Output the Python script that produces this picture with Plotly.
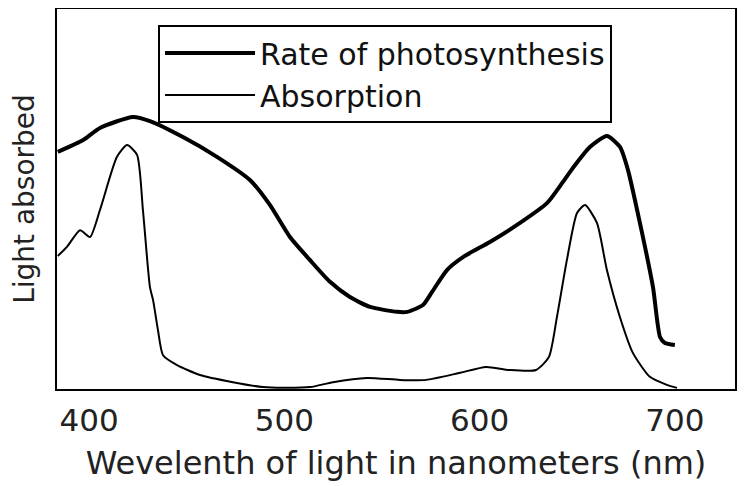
import plotly.graph_objects as go

# Rate of photosynthesis (thick curve)
photo_wl = [384, 397, 405.6, 422.5, 431.2, 448.1, 465.5, 482.4, 492.7, 502.9, 513.2, 523.4,
            533.6, 543.9, 557.7, 563, 571.0, 575.6, 583.3, 591.5, 605.3, 620.7, 634.5,
            642.7, 647.8, 656.5, 665.2, 671.9, 676.0, 682.1, 688.8, 692.4, 694.9, 700.0]
photo_val = [62.4, 65.5, 68.7, 71.6, 70.5, 66.3, 61.1, 55.0, 48.4, 40.0, 33.9, 28.2,
             24.2, 21.6, 20.3, 20.3, 22.1, 25.5, 31.3, 34.7, 38.7, 43.7, 48.9,
             54.5, 58.2, 63.7, 66.6, 63.7, 57.6, 43.7, 26.8, 13.7, 12.1, 11.6]

# Absorption (thin curve)
abs_wl = [384, 388.7, 395.4, 400.5, 405.6, 414.3, 419.5, 424.6, 427.6, 431.2, 432.8, 435.3,
          437.9, 445.1, 456.8, 473.7, 489.1, 499.3, 513.2, 524.9, 542.3, 559.2, 572.6,
          589.5, 603.3, 615.1, 628.9, 635.5, 639.6, 644.7, 649.9, 654.0, 660.1, 665.2,
          671.9, 678.5, 687.2, 695.9, 701.1]
abs_val = [35.0, 37.4, 41.8, 40.0, 47.1, 61.1, 64.2, 61.6, 47.1, 26.8, 23.4, 15.5,
           8.9, 6.3, 3.7, 1.8, 0.5, 0.3, 0.5, 1.8, 2.9, 2.4, 2.4,
           4.2, 5.8, 5.0, 5.0, 8.4, 18.9, 33.9, 46.3, 48.4, 43.7, 31.3,
           18.9, 9.5, 3.2, 1.1, 0.3]

x_ticks = [400, 500, 600, 700]
x_tick_labels = ["400", "500", "600", "700"]

FONT = "DejaVu Sans, Liberation Sans, sans-serif"

fig = go.Figure()
fig.add_trace(go.Scatter(x=photo_wl, y=photo_val, mode="lines", name="Rate of photosynthesis",
                         line=dict(color="black", width=4, shape="spline", smoothing=0.6)))
fig.add_trace(go.Scatter(x=abs_wl, y=abs_val, mode="lines", name="Absorption",
                         line=dict(color="black", width=2, shape="spline", smoothing=0.6)))

fig.update_layout(
    width=752, height=486,
    margin=dict(l=49, r=25, t=1, b=105, autoexpand=False),
    paper_bgcolor="white", plot_bgcolor="white",
    font=dict(family=FONT, color="#111111"),
    showlegend=True,
    legend=dict(x=0.149, y=0.958, xanchor="left", yanchor="top",
                bordercolor="black", borderwidth=2, bgcolor="white",
                font=dict(size=30, family=FONT, color="#111111"),
                itemwidth=90, tracegroupgap=0),
    xaxis=dict(range=[383.6, 730.8], tickmode="array", tickvals=x_ticks, ticktext=x_tick_labels,
               showgrid=False, zeroline=False, showline=True, linecolor="black", linewidth=2,
               mirror=True, ticks="", ticklabelstandoff=3, automargin=False,
               tickfont=dict(size=31, family=FONT, color="#222222"),
               title=dict(text="Wevelenth of light in nanometers (nm)", standoff=14,
                          font=dict(size=32, family=FONT, color="#222222"))),
    yaxis=dict(range=[0, 100], showticklabels=False, showgrid=False, zeroline=False,
               showline=True, linecolor="black", linewidth=2, mirror=True, ticks="",
               automargin=False,
               title=dict(text="Light absorbed", standoff=13,
                          font=dict(size=28, family=FONT, color="#222222"))),
)

fig.write_html("out.html")
